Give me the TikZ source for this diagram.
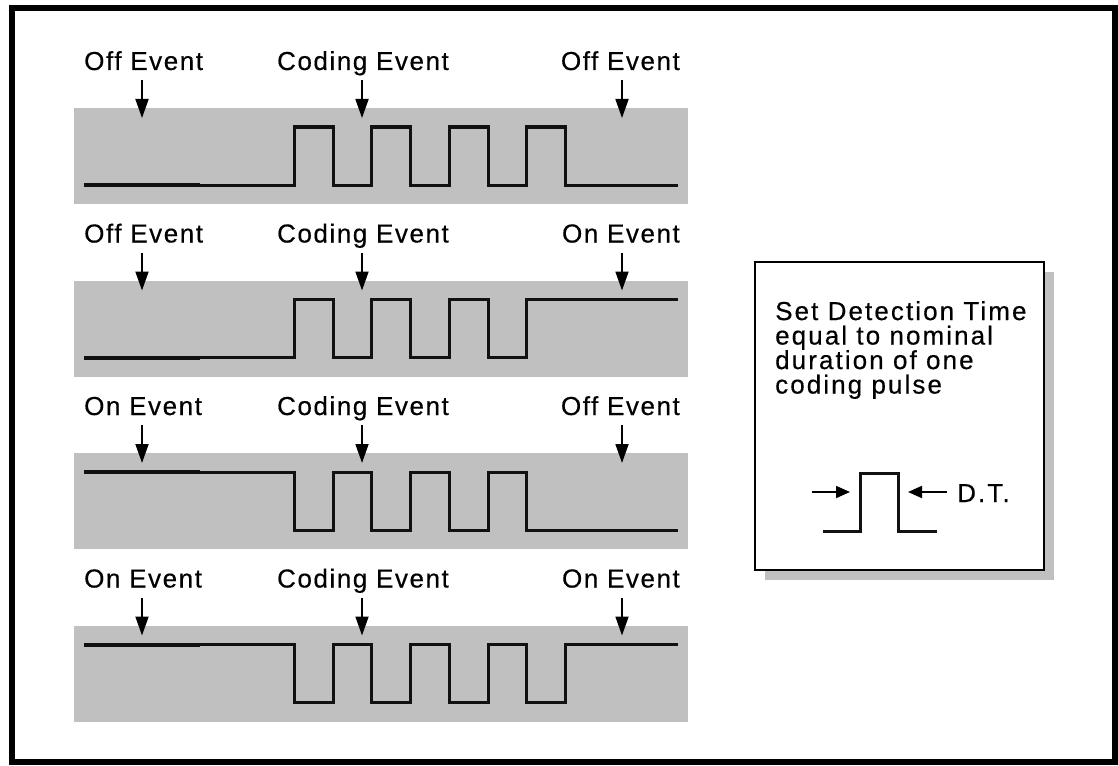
\documentclass[tikz,border=0pt]{standalone}
\usepackage{fontspec}
\setmainfont{Liberation Sans}[LetterSpace=6, FakeBold=0.4]
\newfontfamily\notefont{Liberation Sans}[LetterSpace=8, FakeBold=0.4]
\usetikzlibrary{arrows.meta, shadows}

\definecolor{bandgrey}{RGB}{192,192,192}
\definecolor{sigblack}{RGB}{17,17,17}

\begin{document}
\begin{tikzpicture}[
            x=1pt, y=-1pt,
            every node/.style={inner sep=0pt, font=\fontsize{26}{24.5}\selectfont},
            band/.style={fill=bandgrey},
            signal/.style={line width=3pt, draw=sigblack},
            signalstart/.style={line width=4pt, draw=sigblack},
            eventarrow/.style={line width=1.8pt, -{Triangle[length=19pt, width=13pt]}},
            dtarrow/.style={line width=1.8pt, -{Triangle[length=14pt, width=12pt]}},
            dtbox/.style={draw, line width=2pt, fill=white, minimum width=289pt, minimum height=308pt,
                drop shadow={shadow xshift=10pt, shadow yshift=-10pt, fill=bandgrey, opacity=1}}
        ]

            \useasboundingbox (0,0) rectangle (1118,765);
            \draw[line width=6pt] (12,8) rectangle (1115,762);

            \begin{scope}
                \fill[band] (74,108) rectangle (688,204);
                \node[anchor=base west] (left1) at (84,70) {Off Event};
                \node[anchor=base] (mid1) at (363,70) {Coding Event};
                \node[anchor=base east] (right1) at (680,70) {Off Event};
                \coordinate (tipL1) at (142,118);
                \coordinate (tipM1) at (362,118);
                \coordinate (tipR1) at (622,118);
                \draw[eventarrow] ([yshift=-10pt]left1.base -| tipL1) -- (tipL1);
                \draw[eventarrow] ([yshift=-10pt]mid1.base -| tipM1) -- (tipM1);
                \draw[eventarrow] ([yshift=-10pt]right1.base -| tipR1) -- (tipR1);
                \draw[signalstart] (84,185) -- (200,185);
                \draw[signal] (84,185) -| (294,127) -| (333,185) -| (371,127) -| (410,185) -| (449,127) -| (488,185) -| (526,127) -| (565,185) -- (678,185);
            \end{scope}

            \begin{scope}[shift={(0,172.5)}]
                \fill[band] (74,108) rectangle (688,204);
                \node[anchor=base west] (left2) at (84,70) {Off Event};
                \node[anchor=base] (mid2) at (363,70) {Coding Event};
                \node[anchor=base east] (right2) at (680,70) {On Event};
                \coordinate (tipL2) at (142,118);
                \coordinate (tipM2) at (362,118);
                \coordinate (tipR2) at (622,118);
                \draw[eventarrow] ([yshift=-10pt]left2.base -| tipL2) -- (tipL2);
                \draw[eventarrow] ([yshift=-10pt]mid2.base -| tipM2) -- (tipM2);
                \draw[eventarrow] ([yshift=-10pt]right2.base -| tipR2) -- (tipR2);
                \draw[signalstart] (84,185) -- (200,185);
                \draw[signal] (84,185) -| (294,127) -| (333,185) -| (371,127) -| (410,185) -| (449,127) -| (488,185) -| (526,127) -- (678,127);
            \end{scope}

            \begin{scope}[shift={(0,345)}]
                \fill[band] (74,108) rectangle (688,204);
                \node[anchor=base west] (left3) at (84,70) {On Event};
                \node[anchor=base] (mid3) at (363,70) {Coding Event};
                \node[anchor=base east] (right3) at (680,70) {Off Event};
                \coordinate (tipL3) at (142,118);
                \coordinate (tipM3) at (362,118);
                \coordinate (tipR3) at (622,118);
                \draw[eventarrow] ([yshift=-10pt]left3.base -| tipL3) -- (tipL3);
                \draw[eventarrow] ([yshift=-10pt]mid3.base -| tipM3) -- (tipM3);
                \draw[eventarrow] ([yshift=-10pt]right3.base -| tipR3) -- (tipR3);
                \draw[signalstart] (84,127) -- (200,127);
                \draw[signal] (84,127) -| (294,185) -| (333,127) -| (371,185) -| (410,127) -| (449,185) -| (488,127) -| (526,185) -- (678,185);
            \end{scope}

            \begin{scope}[shift={(0,517.5)}]
                \fill[band] (74,108) rectangle (688,204);
                \node[anchor=base west] (left4) at (84,70) {On Event};
                \node[anchor=base] (mid4) at (363,70) {Coding Event};
                \node[anchor=base east] (right4) at (680,70) {On Event};
                \coordinate (tipL4) at (142,118);
                \coordinate (tipM4) at (362,118);
                \coordinate (tipR4) at (622,118);
                \draw[eventarrow] ([yshift=-10pt]left4.base -| tipL4) -- (tipL4);
                \draw[eventarrow] ([yshift=-10pt]mid4.base -| tipM4) -- (tipM4);
                \draw[eventarrow] ([yshift=-10pt]right4.base -| tipR4) -- (tipR4);
                \draw[signalstart] (84,127) -- (200,127);
                \draw[signal] (84,127) -| (294,185) -| (333,127) -| (371,185) -| (410,127) -| (449,185) -| (488,127) -| (526,185) -| (565,127) -- (678,127);
            \end{scope}

            \node[dtbox] (dtbox) at (899.5,416) {};
            \node[anchor=north west, align=left, font=\notefont\fontsize{26}{24.5}\selectfont] (dttext) at (775,301) {Set Detection Time\\equal to nominal\\duration of one\\coding pulse};
            \draw[signal] (823,531) -| (860,473) -| (898,531) -- (937,531);
            \node[anchor=base west, font=\notefont\fontsize{26}{24.5}\selectfont] (dt) at (957,502) {D.T.};
            \coordinate (dtfrom) at (812,492);
            \coordinate (dtleft) at (850,492);
            \coordinate (dtright) at (908,492);
            \draw[dtarrow] (dtfrom) -- (dtleft);
            \draw[dtarrow] ([xshift=-10pt]dt.west |- dtright) -- (dtright);

        \end{tikzpicture}
\end{document}
